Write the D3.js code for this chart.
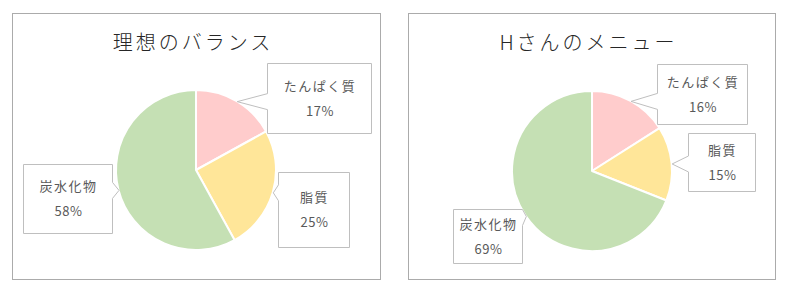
<!DOCTYPE html>
<html>
<head>
<meta charset="utf-8">
<script src="https://cdn.jsdelivr.net/npm/d3@7"></script>
<style>
  body { margin: 0; background: #fff; }
  text { font-family: "Noto Sans CJK JP", "Noto Sans", sans-serif; }
</style>
</head>
<body>
<div class="vis-pies"></div>
<script>
// data
const categories = ['たんぱく質', '脂質', '炭水化物'];
const idealValues = [17, 25, 58];
const menuValues = [16, 15, 69];
const titles = ['理想のバランス', 'Hさんのメニュー'];

const Color = {
    SLICES: ['#FFCCCC', '#FFE699', '#C5E0B4'],
    FRAME: '#ABABAB',
    BOX: '#BFBFBF',
    LABEL: '#595959',
    TITLE: '#262626'
};

// layout: frame, pie centre, label boxes [x, y, w, h] per category
const layouts = [
    { frame: [12, 13, 368, 266], cx: 196, cy: 170, r: 80,
      boxes: [[267, 63, 104, 70], [278, 172, 71, 75], [23, 164, 89, 69]] },
    { frame: [408, 13, 367, 266], cx: 592, cy: 171, r: 80,
      boxes: [[657, 64, 90, 60], [688, 133, 67, 58], [453, 209, 69, 54]] }
];

const svg = d3.select('.vis-pies')
    .append('svg')
    .attr('width', 790)
    .attr('height', 294);

const pie = d3.pie().sort(null).value(d => d);

// callout box with a little pointer toward (tx, ty)
const calloutPath = (b, tx, ty) => {
    const [x, y, w, h] = b;
    const half = 8;
    if (tx < x) {
        const c = Math.max(y + half, Math.min(y + h - half, ty));
        return `M${x},${y}H${x + w}V${y + h}H${x}V${c + half}L${tx},${ty}L${x},${c - half}Z`;
    }
    const c = Math.max(y + half, Math.min(y + h - half, ty));
    return `M${x},${y}H${x + w}V${c - half}L${tx},${ty}L${x + w},${c + half}V${y + h}H${x}Z`;
};

const draw = (values, title, lay) => {
    const g = svg.append('g');
    const [fx, fy, fw, fh] = lay.frame;

    g.append('rect')
        .attr('x', fx + 0.5).attr('y', fy + 0.5)
        .attr('width', fw).attr('height', fh)
        .attr('fill', '#fff')
        .attr('stroke', Color.FRAME)
        .attr('stroke-width', 1);

    g.append('text')
        .attr('x', fx + fw / 2 - 3)
        .attr('y', fy + 37)
        .attr('text-anchor', 'middle')
        .attr('font-size', 20)
        .attr('font-weight', 300)
        .attr('letter-spacing', 3)
        .attr('fill', Color.TITLE)
        .text(title);

    const arcs = pie(values);
    const arc = d3.arc().innerRadius(0).outerRadius(lay.r);
    const total = d3.sum(values);

    const pieG = g.append('g')
        .attr('transform', 'translate(' + lay.cx + ',' + lay.cy + ')');
    pieG.selectAll('path')
        .data(arcs)
        .join('path')
        .attr('d', arc)
        .attr('fill', (d, i) => Color.SLICES[i])
        .attr('stroke', '#fff')
        .attr('stroke-width', 2)
        .attr('stroke-linejoin', 'round');

    // labels
    arcs.forEach((d, i) => {
        const mid = (d.startAngle + d.endAngle) / 2;
        const tx = lay.cx + lay.r * Math.sin(mid);
        const ty = lay.cy - lay.r * Math.cos(mid);
        const b = lay.boxes[i];
        g.append('path')
            .attr('d', calloutPath(b, tx, ty))
            .attr('transform', 'translate(0.5,0.5)')
            .attr('fill', '#fff')
            .attr('stroke', Color.BOX)
            .attr('stroke-width', 1);
        const bx = b[0] + b[2] / 2;
        const by = b[1] + b[3] / 2;
        g.append('text')
            .attr('x', bx + 1).attr('y', by - 12)
            .attr('dy', '0.35em')
            .attr('text-anchor', 'middle')
            .attr('font-size', 13)
            .attr('letter-spacing', 1.5)
            .attr('fill', Color.LABEL)
            .text(categories[i]);
        g.append('text')
            .attr('x', bx + 1).attr('y', by + 13)
            .attr('dy', '0.35em')
            .attr('text-anchor', 'middle')
            .attr('font-size', 13)
            .attr('letter-spacing', 0.5)
            .attr('fill', Color.LABEL)
            .text(Math.round(d.data / total * 100) + '%');
    });
};

draw(idealValues, titles[0], layouts[0]);
draw(menuValues, titles[1], layouts[1]);
</script>
</body>
</html>
